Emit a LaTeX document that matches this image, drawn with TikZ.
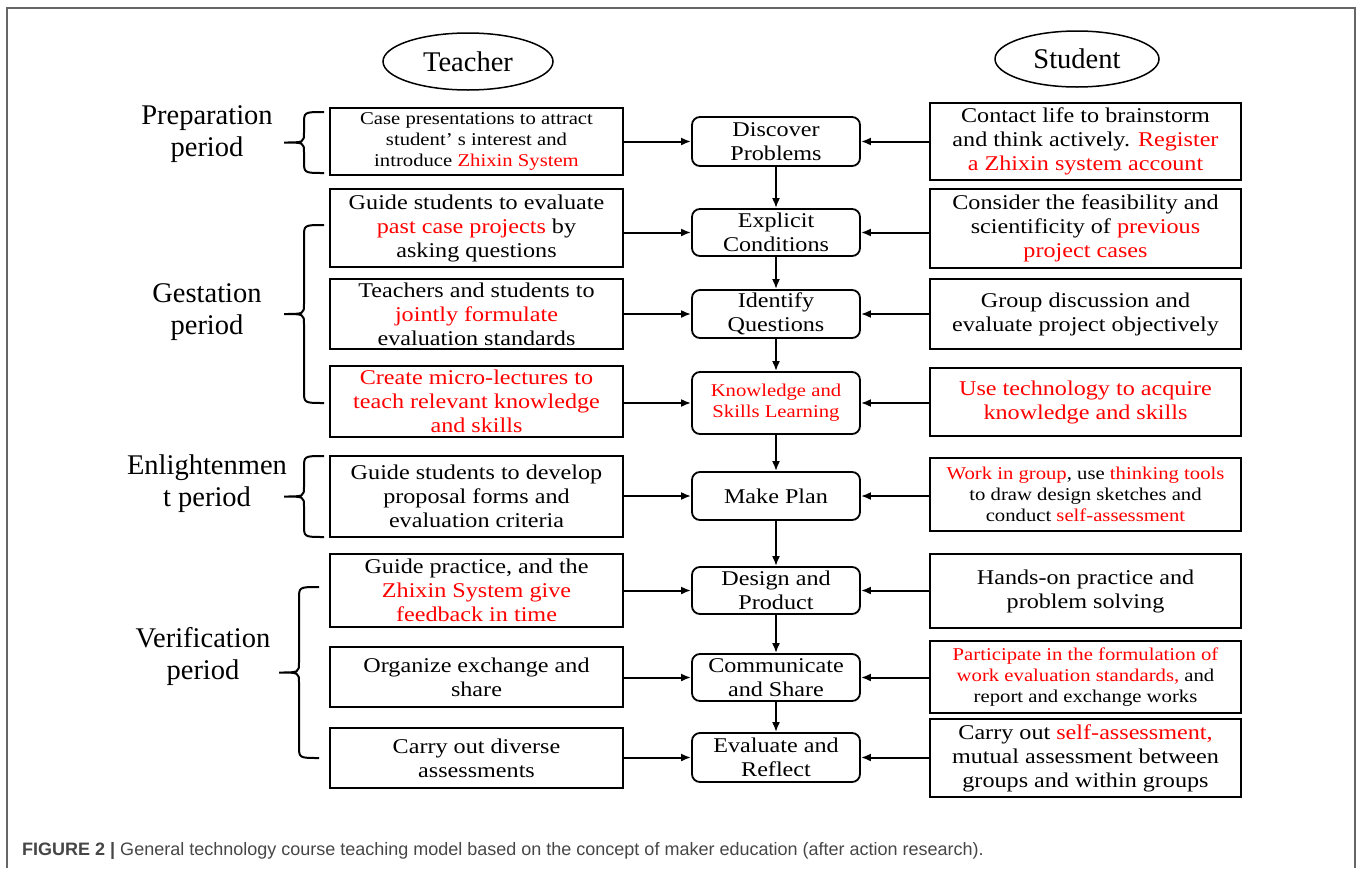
\documentclass[tikz,border=0pt]{standalone}
\usepackage{fontspec}
\setmainfont{Liberation Serif}[FakeStretch=1.15]
\newfontfamily\rolefont{Liberation Serif}
\newfontfamily\capfont{Liberation Sans}
\usetikzlibrary{arrows.meta,shapes.geometric}
\definecolor{capgray}{RGB}{70,70,70}
\newcommand{\kw}[1]{\textcolor{red}{#1}}
\newcommand{\boxfont}{\fontsize{21}{24}\selectfont}
\newcommand{\smallboxfont}{\fontsize{18}{21}\selectfont}
\newcommand{\bigfont}{\rolefont\fontsize{28.5}{32}\selectfont}

\begin{document}
\begin{tikzpicture}[x=1pt,y=-1pt,
    lbox/.style={draw,line width=1.8pt,inner sep=0pt,align=center,font=\boxfont,minimum width=293pt},
    cbox/.style={draw,line width=1.8pt,rounded corners=8pt,inner sep=0pt,align=center,font=\boxfont,minimum width=168pt},
    rbox/.style={draw,line width=1.8pt,inner sep=0pt,align=center,font=\boxfont,minimum width=311pt},
    role/.style={draw,ellipse,line width=1.5pt,inner sep=0pt,font=\bigfont},
    period/.style={align=center,font=\bigfont},
    arr/.style={line width=2pt,arrows={-Latex[length=10pt,width=8pt]}}]
  \useasboundingbox (0,0) rectangle (1358,868);
  \draw[black!60,line width=2pt] (7,868) -- (7,8) -- (1355,8) -- (1355,868);

  \node[role,minimum width=170pt,minimum height=57pt] (teacher) at (468,61.5) {Teacher};
  \node[role,minimum width=164pt,minimum height=56pt] (student) at (1077,59) {Student};

  % teacher side
  \node[lbox,minimum height=67,font=\smallboxfont] (L1) at (476.5,141.5) {Case presentations to attract\\student’ s interest and\\introduce \kw{Zhixin System}};
  \node[lbox,minimum height=78] (L2) at (476.5,228) {Guide students to evaluate\\\kw{past case projects} by\\asking questions};
  \node[lbox,minimum height=70] (L3) at (476.5,314) {Teachers and students to\\\kw{jointly formulate}\\evaluation standards};
  \node[lbox,minimum height=71,text=red] (L4) at (476.5,401.5) {Create micro-lectures to\\teach relevant knowledge\\and skills};
  \node[lbox,minimum height=81] (L5) at (476.5,496.5) {Guide students to develop\\proposal forms and\\evaluation criteria};
  \node[lbox,minimum height=73] (L6) at (476.5,590.5) {Guide practice, and the\\\kw{Zhixin System give}\\\kw{feedback in time}};
  \node[lbox,minimum height=60] (L7) at (476.5,677) {Organize exchange and\\share};
  \node[lbox,minimum height=60] (L8) at (476.5,758) {Carry out diverse\\assessments};

  % steps
  \node[cbox,minimum height=49] (C1) at (776,141.5) {Discover\\Problems};
  \node[cbox,minimum height=47] (C2) at (776,232.5) {Explicit\\Conditions};
  \node[cbox,minimum height=48] (C3) at (776,314) {Identify\\Questions};
  \node[cbox,minimum height=62,font=\smallboxfont,text=red] (C4) at (776,403) {Knowledge and\\Skills Learning};
  \node[cbox,minimum height=48] (C5) at (776,496) {Make Plan};
  \node[cbox,minimum height=47] (C6) at (776,590.5) {Design and\\Product};
  \node[cbox,minimum height=47] (C7) at (776,677.5) {Communicate\\and Share};
  \node[cbox,minimum height=49] (C8) at (776,757.5) {Evaluate and\\Reflect};

  % student side
  \node[rbox,minimum height=77] (R1) at (1085.5,141.5) {Contact life to brainstorm\\and think actively. \kw{Register}\\\kw{a Zhixin system account}};
  \node[rbox,minimum height=79] (R2) at (1085.5,228.5) {Consider the feasibility and\\scientificity of \kw{previous}\\\kw{project cases}};
  \node[rbox,minimum height=70] (R3) at (1085.5,314) {Group discussion and\\evaluate project objectively};
  \node[rbox,minimum height=68,text=red] (R4) at (1085.5,402) {Use technology to acquire\\knowledge and skills};
  \node[rbox,minimum height=73,font=\smallboxfont] (R5) at (1085.5,494.5) {\kw{Work in group}, use \kw{thinking tools}\\to draw design sketches and\\conduct \kw{self-assessment}};
  \node[rbox,minimum height=74] (R6) at (1085.5,591) {Hands-on practice and\\problem solving};
  \node[rbox,minimum height=72,font=\smallboxfont] (R7) at (1085.5,677) {\kw{Participate in the formulation of}\\\kw{work evaluation standards,} and\\report and exchange works};
  \node[rbox,minimum height=78] (R8) at (1085.5,758) {Carry out \kw{self-assessment,}\\mutual assessment between\\groups and within groups};

  % periods
  \node[period] (prep) at (207,134) {Preparation\\period};
  \node[period] (gest) at (207,312.5) {Gestation\\period};
  \node[period] (enli) at (207,484) {Enlightenmen\\t period};
  \node[period] (veri) at (203,656) {Verification\\period};

  \foreach \r/\a/\b in {324/112/173,324/225/403,324/456/537,319/587/758}{
    \pgfmathsetmacro\m{(\a+\b)/2}
    \draw[line width=2pt] (\r,\a) .. controls (\r-20,\a) .. (\r-20,\a+12) -- (\r-20,\m-10)
      .. controls (\r-20,\m) .. (\r-40,\m) .. controls (\r-20,\m) .. (\r-20,\m+10)
      -- (\r-20,\b-12) .. controls (\r-20,\b) .. (\r,\b);
  }

  \foreach \i in {1,...,8}{
    \draw[arr] (L\i.east |- C\i.west) -- (C\i.west);
    \draw[arr] (R\i.west |- C\i.east) -- (C\i.east);
  }
  \foreach \i/\j in {1/2,2/3,3/4,4/5,5/6,6/7,7/8}
    \draw[arr] (C\i.south) -- (C\j.north);

  \node[anchor=west,inner sep=0pt,text=capgray,font=\capfont\fontsize{18}{21}\selectfont] (cap) at (22,851)
    {\textbf{FIGURE 2 |} General technology course teaching model based on the concept of maker education (after action research).};
\end{tikzpicture}
\end{document}
